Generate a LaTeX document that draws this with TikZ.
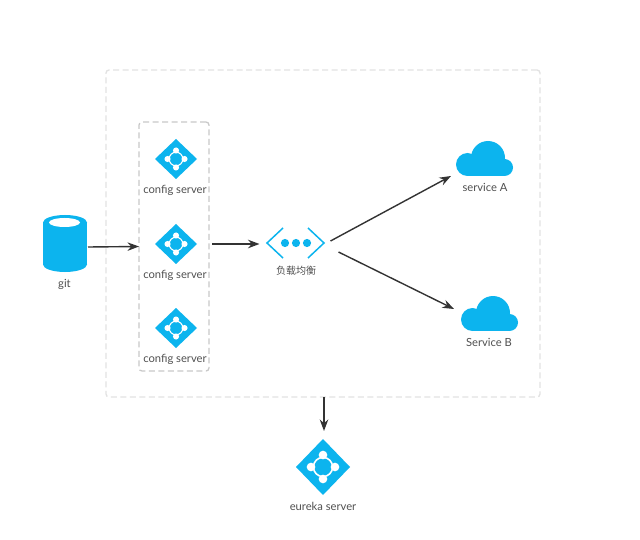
\documentclass[tikz,border=0pt]{standalone}
\usepackage{fontspec}
\setmainfont{Lato}
\newfontfamily\cjk{Noto Sans CJK SC}
\usetikzlibrary{shapes.geometric,arrows.meta,calc}
\definecolor{iconblue}{HTML}{0CB4EE}
\definecolor{linedark}{HTML}{333333}
\definecolor{labelgrey}{HTML}{505050}
\definecolor{outerdash}{HTML}{E2E2E2}
\definecolor{innerdash}{HTML}{C9C9C9}
\tikzset{
  flow/.style={draw=linedark,line width=1.4pt,-{Stealth[length=11.5pt,width=8.5pt]}},
  lbl/.style={text=labelgrey,font=\fontsize{11.2}{13}\selectfont,inner sep=0pt},
  hubd/.style={shape=diamond,fill=iconblue,inner sep=0pt,outer sep=0pt},
  hubline/.style={draw=white,line width=#1},
  box/.style={shape=rectangle,inner sep=0pt,outer sep=0pt},
  groupbox/.style={draw,dashed,dash pattern=on 6pt off 3.5pt,line width=1.3pt,rounded corners=3pt}
}
\newcommand{\hubicon}[6]{% name, x, y, half width, half height, dot offset
  \node[hubd,minimum width=#4*2pt,minimum height=#5*2pt] (#1) at (#2,#3) {};
  \draw[hubline=#6*0.13pt] (#2,#3) circle[radius=#6*0.8];
  \foreach \dx/\dy in {-1/0,1/0,0/-1,0/1}
    \fill[white] (#2+\dx*#6,#3+\dy*#6) circle[radius=#6*0.36];
}
\newcommand{\cloudicon}[3]{% name, left, top
  \node[box,minimum width=57pt,minimum height=35pt] (#1) at (#2+28.5,#3+17.5) {};
  \begin{scope}[shift={(#2,#3)}]
    \fill[iconblue] (11.5,23.5) circle[radius=11.5];
    \fill[iconblue] (32,17) circle[radius=17];
    \fill[iconblue] (48.5,26.5) circle[radius=8.5];
    \fill[iconblue] (11,22) rectangle (48.5,35);
  \end{scope}
}
\begin{document}
\begin{tikzpicture}[x=1pt,y=-1pt]
\useasboundingbox[fill=white] (0,0) rectangle (640,540);
% group frames
\node[box,groupbox,draw=outerdash,minimum width=434pt,minimum height=327pt] (outer) at (323,233.5) {};
\node[box,groupbox,draw=innerdash,minimum width=70pt,minimum height=249pt] (cfggroup) at (174,246.5) {};
% git
\node[box,minimum width=44pt,minimum height=57pt] (git) at (65,243.5) {};
\fill[iconblue] (65,222.5) ellipse[x radius=22,y radius=7.5];
\fill[iconblue] (65,264.5) ellipse[x radius=22,y radius=7.5];
\fill[iconblue] (43,222.5) rectangle (87,264.5);
\fill[white] (64.5,222.5) ellipse[x radius=15.5,y radius=4.5];
\node[lbl] (gitlabel) at (64.5,284) {git};
% config servers
\hubicon{cfgA}{176}{159}{21}{20}{8.5}
\node[lbl] (cfgAlabel) at (175,190) {config server};
\hubicon{cfgB}{176}{244}{21}{20}{8.5}
\node[lbl] (cfgBlabel) at (175,275) {config server};
\hubicon{cfgC}{176}{328}{21}{20}{8.5}
\node[lbl] (cfgClabel) at (175,359) {config server};
% load balancer
\node[box,minimum width=58pt,minimum height=32pt] (lb) at (295.5,243) {};
\draw[iconblue,line width=1.5pt] (283,228) -- (267,243) -- (283,258);
\draw[iconblue,line width=1.5pt] (308,228) -- (324,243) -- (308,258);
\foreach \px in {285,296,307} \fill[iconblue] (\px,243) circle[radius=4.1];
\node[lbl,font=\cjk\fontsize{10}{12}\selectfont] (lblabel) at (296,270.5) {负载均衡};
% services
\cloudicon{svcA}{456}{141}
\node[lbl] (svcAlabel) at (485,187.5) {service A};
\cloudicon{svcB}{461}{296}
\node[lbl] (svcBlabel) at (489,342) {Service B};
% eureka
\hubicon{eureka}{323}{467}{27}{28}{12}
\node[lbl] (eurekalabel) at (323,506.5) {eureka server};
% connectors
\draw[flow] ([xshift=1pt,yshift=-3.5pt]git.east) -- ([yshift=0pt]cfggroup.west);
\draw[flow] ([xshift=3pt,yshift=2.5pt]cfggroup.east) -- ([xshift=-7pt,yshift=-1pt]lb.west);
\draw[flow] ([xshift=6pt,yshift=2pt]lb.east) -- ([xshift=-5pt]svcA.south west);
\draw[flow] ([xshift=14pt,yshift=-9pt]lb.east) -- ([xshift=-7pt,yshift=4.5pt]svcB.west);
\draw[flow] ([xshift=1pt]outer.south) -- ([xshift=1pt,yshift=8pt]eureka.north);
\end{tikzpicture}
\end{document}
